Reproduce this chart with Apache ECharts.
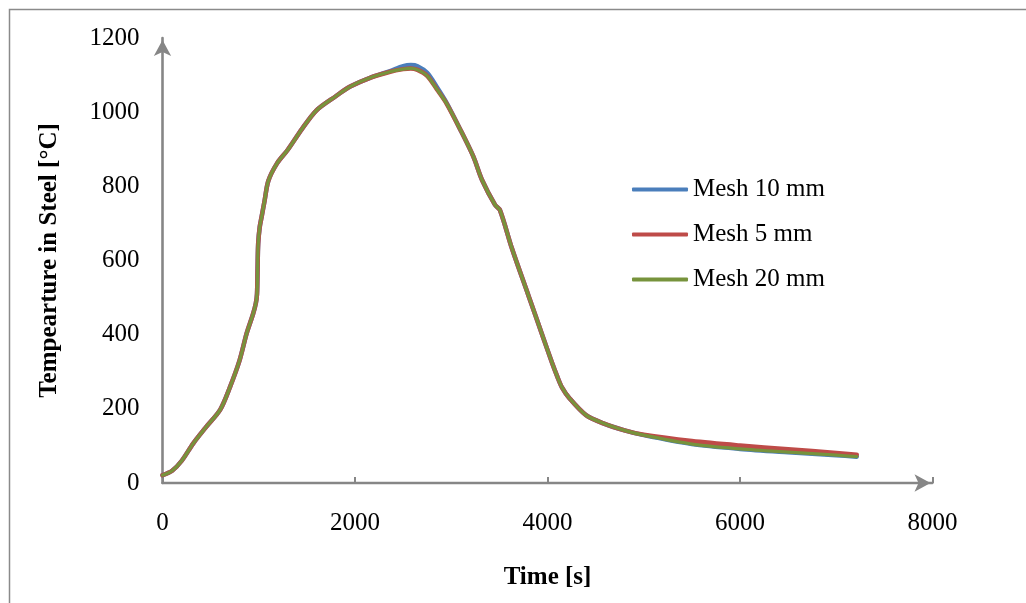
<!DOCTYPE html>
<html>
<head>
<meta charset="utf-8">
<script src="https://cdn.jsdelivr.net/npm/echarts@6/dist/echarts.min.js"></script>
<style>
  html, body { margin: 0; padding: 0; background: #ffffff; }
  #chart { width: 1026px; height: 603px; }
</style>
</head>
<body>
<div id="chart"></div>
<script>
// Time axis samples [s]
const timeS = [0, 100, 200, 320, 450, 600, 700, 800, 875, 940, 970, 982, 988, 994, 1010, 1030, 1060, 1100, 1190, 1300,
  1450, 1600, 1800, 1950, 2150, 2365, 2500, 2580, 2650, 2750, 2850, 2950, 3100, 3230, 3320, 3455, 3506, 3630, 3800, 3950,
  4050, 4100, 4150, 4230, 4400, 4580, 4800, 5000, 5500, 6000, 6500, 7000, 7213];

// Steel temperature [°C] for each mesh size
const mesh10 = [21, 33, 60, 107, 150, 198, 258, 330, 404, 455, 485, 510, 580, 645, 690, 718, 760, 815, 862, 898,
  955, 1005, 1043, 1069, 1092, 1111, 1124, 1127, 1124, 1106, 1068, 1026, 950, 880, 817, 750, 736, 633, 507, 396,
  322, 288, 258, 228, 183, 161, 142, 129, 105, 92, 83, 75, 71];
const mesh5 = [21, 33, 60, 107, 150, 198, 258, 330, 404, 455, 485, 510, 580, 645, 690, 718, 760, 815, 862, 898,
  955, 1005, 1043, 1069, 1092, 1109, 1116, 1118, 1114, 1098, 1062, 1024, 950, 880, 817, 750, 736, 633, 507, 396,
  322, 288, 258, 228, 183, 161, 142, 130, 113, 101, 91, 81, 76];
const mesh20 = [21, 33, 60, 107, 150, 198, 258, 330, 404, 455, 485, 510, 580, 645, 690, 718, 760, 815, 862, 898,
  955, 1005, 1043, 1069, 1092, 1109, 1116, 1118, 1114, 1098, 1062, 1024, 950, 880, 817, 750, 736, 633, 507, 396,
  322, 288, 258, 228, 183, 161, 142, 129, 105, 92, 83, 75, 71];

const seriesNames = ['Mesh 10 mm', 'Mesh 5 mm', 'Mesh 20 mm'];
const seriesColors = ['#4A7EBB', '#BE4B48', '#77933C'];
const seriesWidths = [4.5, 4.5, 3.2];
const seriesValues = [mesh10, mesh5, mesh20];

const FONT = '"Liberation Serif", "Times New Roman", serif';
const AXIS_GREY = '#868686';

const chart = echarts.init(document.getElementById('chart'), null, { renderer: 'canvas' });

const series = seriesNames.map(function (name, i) {
  return {
    name: name,
    type: 'line',
    data: timeS.map(function (t, k) { return [t, seriesValues[i][k]]; }),
    showSymbol: false,
    smooth: 0.3,
    lineStyle: { color: seriesColors[i], width: seriesWidths[i], cap: 'round', join: 'round' },
    itemStyle: { color: seriesColors[i] },
    z: 2 + i,
    animation: false
  };
});

function plain(v) { return String(v); }

chart.setOption({
  backgroundColor: '#ffffff',
  animation: false,
  grid: { left: 162.5, right: 93.5, top: 38, bottom: 120, containLabel: false },
  graphic: [{
    type: 'rect',
    shape: { x: 9.5, y: 9.5, width: 1040, height: 620 },
    style: { fill: 'none', stroke: '#8a8a8a', lineWidth: 1.5 },
    silent: true
  }],
  legend: {
    orient: 'vertical',
    left: 632,
    top: 177,
    padding: 0,
    itemWidth: 56,
    itemHeight: 4,
    itemGap: 20,
    icon: 'roundRect',
    data: seriesNames,
    textStyle: { fontFamily: FONT, fontSize: 25, color: '#000', lineHeight: 24 }
  },
  xAxis: {
    type: 'value',
    min: 0,
    max: 8000,
    interval: 2000,
    name: 'Time [s]',
    nameLocation: 'middle',
    nameGap: 82,
    nameTextStyle: { fontFamily: FONT, fontSize: 25, fontWeight: 'bold', color: '#000' },
    axisLine: {
      show: true,
      onZero: false,
      symbol: ['none', 'arrow'],
      symbolSize: [13, 16],
      symbolOffset: [0, -2],
      lineStyle: { color: AXIS_GREY, width: 2.3 }
    },
    axisTick: { show: true, inside: true, length: 6, lineStyle: { color: AXIS_GREY, width: 2 } },
    axisLabel: { fontFamily: FONT, fontSize: 25, color: '#000', margin: 28, formatter: plain },
    splitLine: { show: false }
  },
  yAxis: {
    type: 'value',
    min: 0,
    max: 1200,
    interval: 200,
    name: 'Tempearture in Steel [°C]',
    nameLocation: 'middle',
    nameGap: 100,
    nameTextStyle: { fontFamily: FONT, fontSize: 25, fontWeight: 'bold', color: '#000' },
    axisLine: {
      show: true,
      onZero: false,
      symbol: ['none', 'arrow'],
      symbolSize: [13, 16],
      symbolOffset: [0, -2],
      lineStyle: { color: AXIS_GREY, width: 2.6 }
    },
    axisTick: { show: false },
    axisLabel: { fontFamily: FONT, fontSize: 25, color: '#000', margin: 23, formatter: plain },
    splitLine: { show: false }
  },
  series: series
});
</script>
</body>
</html>
